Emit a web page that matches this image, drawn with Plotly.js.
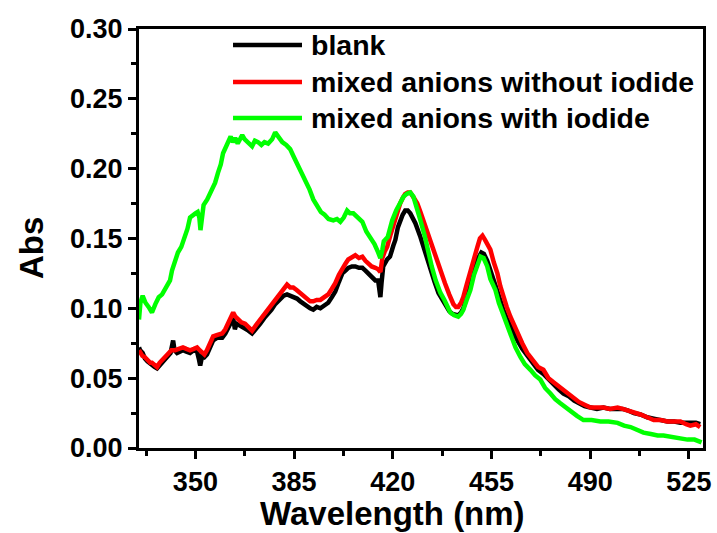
<!DOCTYPE html>
<html>
<head>
<meta charset="utf-8">
<script src="https://cdn.plot.ly/plotly-3.0.1.min.js"></script>
<style>html,body{margin:0;padding:0;background:#fff;}#chart{width:717px;height:533px;}</style>
</head>
<body>
<div id="chart"></div>
<script>
// ---- data ----
const seriesNames = ["blank", "mixed anions without iodide", "mixed anions with iodide"];
const seriesColors = ["#000000", "#ff0000", "#00ff00"];
const xTitle = "Wavelength (nm)";
const yTitle = "Abs";

const blankWl = [330.0,330.4,331.3,332.1,333.0,334.0,334.6,335.5,336.4,337.3,338.2,339.2,340.3,341.2,342.1,342.6,343.5,344.6,345.6,346.8,348.1,349.4,350.6,351.2,351.7,352.4,353.2,354.1,355.2,356.3,357.8,359.5,360.6,361.6,362.5,363.4,364.0,364.6,365.5,366.5,367.6,368.8,370.1,371.5,373.0,374.4,375.8,377.0,378.3,379.9,381.3,382.5,383.6,384.7,386.0,387.2,388.4,389.6,390.7,391.8,393.0,394.3,395.7,397.1,398.4,399.6,400.9,402.1,403.2,404.2,405.5,406.7,408.0,409.2,410.3,411.3,412.5,413.8,414.8,415.3,415.6,416.0,416.6,418.0,419.0,420.2,420.9,421.8,422.6,423.5,424.4,425.3,426.2,427.1,428.0,429.8,431.5,433.3,434.8,436.2,437.5,438.8,440.0,441.2,442.4,443.2,444.2,445.0,446.2,447.5,448.7,450.0,451.4,452.3,453.5,454.6,455.8,457.1,458.1,459.2,460.4,461.7,462.9,464.2,465.9,467.7,469.9,471.5,473.4,475.2,477.0,478.8,480.5,482.4,484.3,486.0,488.0,490.1,492.4,494.7,497.0,499.7,501.5,503.2,505.5,507.8,510.2,512.5,515.0,517.4,519.8,522.0,524.0,525.5,527.5,529.0];
const blankAbs = [0.072,0.070,0.068,0.064,0.062,0.060,0.059,0.058,0.057,0.059,0.061,0.063,0.066,0.068,0.077,0.070,0.068,0.069,0.070,0.069,0.068,0.070,0.069,0.064,0.059,0.066,0.065,0.067,0.072,0.077,0.079,0.079,0.082,0.086,0.090,0.093,0.085,0.089,0.088,0.087,0.086,0.084,0.082,0.085,0.089,0.093,0.096,0.099,0.103,0.106,0.109,0.110,0.109,0.108,0.107,0.105,0.103,0.101,0.100,0.099,0.101,0.100,0.102,0.104,0.108,0.112,0.119,0.125,0.127,0.129,0.130,0.130,0.129,0.129,0.127,0.125,0.123,0.120,0.120,0.112,0.108,0.118,0.130,0.135,0.137,0.145,0.149,0.158,0.163,0.167,0.170,0.170,0.168,0.165,0.161,0.151,0.140,0.127,0.119,0.111,0.106,0.102,0.098,0.096,0.095,0.095,0.097,0.100,0.108,0.118,0.128,0.135,0.140,0.139,0.134,0.128,0.120,0.112,0.105,0.099,0.093,0.087,0.082,0.077,0.071,0.066,0.060,0.056,0.053,0.049,0.045,0.042,0.039,0.037,0.034,0.032,0.030,0.029,0.028,0.029,0.028,0.028,0.028,0.027,0.025,0.024,0.022,0.021,0.020,0.019,0.019,0.018,0.018,0.018,0.018,0.017];

const withoutWl = [330.0,330.4,331.2,332.1,333.0,334.0,334.6,335.5,336.4,337.3,338.2,339.2,340.3,341.5,342.8,344.2,345.6,346.8,348.1,349.4,350.6,351.5,352.4,353.2,354.1,355.2,356.3,357.8,359.5,360.6,361.6,362.5,363.4,364.2,365.1,366.3,367.6,368.8,370.1,371.5,373.0,374.4,375.8,377.0,378.3,379.9,381.3,382.5,383.6,384.7,386.0,387.2,388.4,389.6,390.7,391.8,393.0,394.3,395.7,397.1,398.4,399.6,400.9,402.1,403.2,404.2,405.5,406.7,408.0,409.2,410.3,411.3,412.5,413.8,414.8,415.6,416.3,417.2,418.0,419.1,420.2,421.4,422.6,423.5,424.4,425.3,426.2,427.5,428.7,429.8,430.8,432.0,433.3,434.6,436.0,437.2,438.5,440.0,441.5,442.4,443.2,444.2,445.0,446.2,447.5,448.7,450.0,450.9,451.8,452.7,453.7,454.6,455.8,457.1,458.1,459.2,460.4,461.7,462.9,464.2,465.9,467.7,469.9,471.5,473.4,475.2,477.0,478.8,480.5,482.4,484.3,486.0,488.0,490.1,492.4,494.7,497.0,499.7,501.5,503.2,505.5,507.8,510.2,512.5,515.0,517.4,519.8,522.0,524.0,525.5,527.5,529.0];
const withoutAbs = [0.070,0.068,0.066,0.065,0.063,0.061,0.061,0.059,0.058,0.061,0.063,0.065,0.068,0.070,0.070,0.071,0.072,0.071,0.070,0.071,0.072,0.070,0.068,0.067,0.070,0.075,0.080,0.081,0.082,0.085,0.089,0.093,0.097,0.094,0.092,0.090,0.089,0.086,0.084,0.088,0.092,0.096,0.099,0.102,0.106,0.110,0.114,0.117,0.115,0.115,0.113,0.111,0.108,0.106,0.105,0.105,0.106,0.106,0.108,0.110,0.114,0.118,0.124,0.129,0.132,0.135,0.137,0.138,0.136,0.137,0.134,0.132,0.130,0.129,0.128,0.126,0.136,0.141,0.144,0.152,0.160,0.168,0.175,0.179,0.182,0.183,0.183,0.179,0.175,0.169,0.163,0.156,0.149,0.140,0.131,0.124,0.118,0.110,0.103,0.101,0.101,0.104,0.108,0.117,0.127,0.137,0.144,0.150,0.152,0.149,0.145,0.142,0.133,0.125,0.116,0.108,0.101,0.094,0.088,0.082,0.075,0.068,0.062,0.058,0.056,0.050,0.047,0.044,0.042,0.038,0.035,0.033,0.031,0.029,0.029,0.029,0.028,0.029,0.028,0.027,0.026,0.024,0.022,0.020,0.020,0.019,0.019,0.019,0.017,0.016,0.017,0.015];

const withWl = [330.0,330.5,331.3,332.3,333.4,334.6,335.8,337.0,338.2,339.2,340.2,341.0,341.7,342.6,343.8,345.0,346.3,347.2,348.1,349.0,350.0,350.8,351.4,351.8,352.3,352.9,354.2,355.9,357.0,358.0,359.0,359.8,360.7,361.6,362.5,363.3,364.1,365.0,365.8,366.6,367.5,368.8,370.1,371.1,372.2,373.4,374.5,375.8,377.2,378.3,379.5,380.8,382.2,383.6,385.0,386.4,387.9,389.2,390.5,391.8,393.2,394.5,395.8,397.2,398.9,400.2,401.4,402.6,403.8,404.8,406.0,407.5,409.2,410.6,412.0,413.5,414.8,415.6,416.3,416.8,418.2,419.8,421.2,422.6,423.8,425.0,426.2,427.3,428.6,429.8,431.3,432.5,433.8,435.2,436.9,438.3,439.5,440.4,441.8,443.2,444.2,445.0,446.2,447.5,448.8,450.0,451.1,452.2,453.5,454.6,456.4,457.6,458.9,460.0,461.0,462.3,463.5,465.3,466.8,468.8,470.5,472.3,474.0,475.9,477.6,479.4,481.2,483.0,485.3,487.6,490.5,493.6,496.5,499.7,502.0,504.3,506.5,508.9,511.5,513.9,516.0,518.5,521.5,524.5,527.0,529.5];
const withAbs = [0.092,0.104,0.109,0.104,0.101,0.097,0.103,0.108,0.110,0.114,0.117,0.120,0.127,0.132,0.140,0.144,0.151,0.157,0.165,0.166,0.168,0.169,0.165,0.156,0.168,0.174,0.178,0.185,0.190,0.197,0.203,0.211,0.215,0.218,0.223,0.219,0.222,0.218,0.222,0.224,0.221,0.219,0.216,0.220,0.219,0.217,0.219,0.218,0.221,0.226,0.222,0.219,0.217,0.214,0.208,0.202,0.197,0.190,0.185,0.178,0.173,0.169,0.167,0.164,0.163,0.164,0.162,0.165,0.170,0.168,0.168,0.165,0.162,0.155,0.151,0.146,0.140,0.136,0.142,0.148,0.151,0.163,0.170,0.176,0.180,0.182,0.183,0.180,0.172,0.163,0.152,0.140,0.130,0.120,0.111,0.106,0.101,0.097,0.095,0.094,0.096,0.099,0.106,0.113,0.124,0.132,0.137,0.136,0.130,0.121,0.113,0.104,0.097,0.090,0.084,0.077,0.072,0.065,0.060,0.056,0.052,0.049,0.043,0.039,0.035,0.032,0.029,0.027,0.023,0.020,0.020,0.019,0.019,0.018,0.016,0.015,0.013,0.011,0.010,0.009,0.009,0.008,0.007,0.006,0.006,0.004];

const xTickVals = [350, 385, 420, 455, 490, 525];
const yTickVals = [0.00, 0.05, 0.10, 0.15, 0.20, 0.25, 0.30];

// ---- chart ----
const FONT = "Liberation Sans, Arial, Helvetica, sans-serif";
const xs = [blankWl, withoutWl, withWl];
const ys = [blankAbs, withoutAbs, withAbs];

const traces = seriesNames.map((name, i) => ({
  type: "scatter", mode: "lines", name: name,
  x: xs[i], y: ys[i],
  line: {color: seriesColors[i], width: 4.5},
  showlegend: false
}));

// hand-drawn legend (long sample lines like the original)
const legendRowsY = [0.962, 0.8735, 0.7876];
const shapes = seriesNames.map((n, i) => ({
  type: "line", xref: "paper", yref: "paper",
  x0: 0.1667, x1: 0.289, y0: legendRowsY[i], y1: legendRowsY[i],
  line: {color: seriesColors[i], width: 4.5}
}));
const annotations = seriesNames.map((n, i) => ({
  xref: "paper", yref: "paper", x: 0.301, y: legendRowsY[i],
  xanchor: "left", yanchor: "middle", showarrow: false, text: n,
  font: {family: FONT, size: 28.5, color: "#000", weight: "bold"}
}));
// axis titles placed like the original (offset from plot centre)
annotations.push({
  xref: "paper", yref: "paper", x: 0.4486, y: -0.1575,
  xanchor: "center", yanchor: "middle", showarrow: false, text: xTitle,
  font: {family: FONT, size: 33, color: "#000", weight: "bold"}
});
annotations.push({
  xref: "paper", yref: "paper", x: -0.1915, y: 0.4773,
  xanchor: "center", yanchor: "middle", showarrow: false, text: yTitle, textangle: -90,
  font: {family: FONT, size: 33, color: "#000", weight: "bold"}
});

const axisCommon = {
  showline: true, linecolor: "#000", linewidth: 3, mirror: true,
  showgrid: false, zeroline: false,
  ticks: "outside", ticklen: 8, tickwidth: 3, tickcolor: "#000",
  tickfont: {family: FONT, size: 27, color: "#000", weight: "bold"},
  automargin: false
};

const layout = {
  width: 717, height: 533,
  margin: {l: 139, r: 14, t: 29, b: 85},
  paper_bgcolor: "#ffffff", plot_bgcolor: "#ffffff",
  xaxis: Object.assign({}, axisCommon, {
    range: [330, 530], tickmode: "array", tickvals: xTickVals,
    ticktext: xTickVals.map(String),
    minor: {dtick: 17.5, tick0: 332.5, ticks: "outside", ticklen: 5, tickwidth: 3, tickcolor: "#000"}
  }),
  yaxis: Object.assign({}, axisCommon, {
    range: [0, 0.30], tickmode: "array", tickvals: yTickVals,
    ticktext: yTickVals.map(v => v.toFixed(2)),
    minor: {dtick: 0.025, tick0: 0, ticks: "outside", ticklen: 5, tickwidth: 3, tickcolor: "#000"}
  }),
  shapes: shapes,
  annotations: annotations
};

Plotly.newPlot("chart", traces, layout, {staticPlot: true, displayModeBar: false});
</script>
</body>
</html>
